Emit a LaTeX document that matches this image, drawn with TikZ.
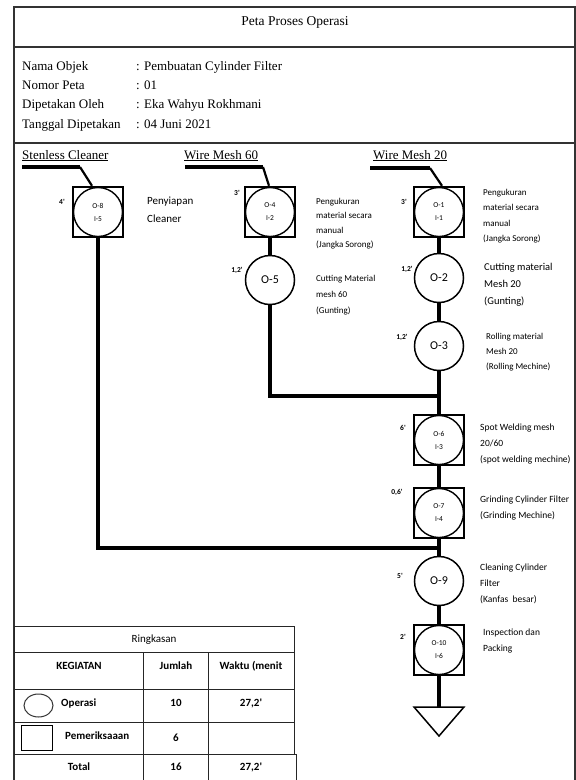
\documentclass[tikz,border=0pt]{standalone}
\usepackage{fontspec}
\setmainfont{Liberation Serif}
\newfontfamily\calib{Carlito}
\usetikzlibrary{positioning}

\begin{document}
\begin{tikzpicture}[x=1pt,y=-1pt,
    frame/.style={draw=black!80,line width=1.3pt},
    flow/.style={line width=4pt},
    lead/.style={line width=2.2pt},
    insbox/.style={draw,line width=2.4pt,minimum size=50pt,inner sep=0pt,align=center,
      font=\calib\fontsize{7.5}{13}\selectfont,
      path picture={\draw[line width=1.4pt] (path picture bounding box.center) circle (24.5pt);}},
    opcirc/.style={draw,circle,line width=1.5pt,minimum size=49pt,inner sep=0pt,
      font=\calib\fontsize{12}{14}\selectfont},
    hdr/.style={anchor=base west,inner sep=0pt,font=\fontsize{13}{15}\selectfont},
    tm/.style={inner sep=0pt,font=\calib\bfseries\fontsize{7.5}{9}\selectfont},
    lab/.style={anchor=north west,inner sep=0pt,align=left},
    tab/.style={draw=black!85,line width=1pt},
    tb/.style={inner sep=0pt,font=\calib\bfseries\fontsize{11}{12}\selectfont}]
  \useasboundingbox (0,0) rectangle (576,780);

  % Frame and header
  \draw[frame] (14,782) -- (14,7) -- (575,7) -- (575,782);
  \draw[frame] (14,47) -- (575,47);
  \draw[frame] (14,143) -- (575,143);
  \node[inner sep=0pt,font=\fontsize{13.5}{15}\selectfont,anchor=base] (title) at (295,25) {Peta Proses Operasi};
  \node[hdr] (k1) at (22,70) {Nama Objek};
  \node[hdr] (k2) at (22,89) {Nomor Peta};
  \node[hdr] (k3) at (22,108) {Dipetakan Oleh};
  \node[hdr] (k4) at (22,128) {Tanggal Dipetakan};
  \node[hdr] (v1) at (136,70) {: Pembuatan Cylinder Filter};
  \node[hdr] (v2) at (136,89) {: 01};
  \node[hdr] (v3) at (136,108) {: Eka Wahyu Rokhmani};
  \node[hdr] (v4) at (136,128) {: 04 Juni 2021};

  % Materials
  \node[hdr] (src8) at (22,159) {\underline{Stenless Cleaner}};
  \node[hdr] (src4) at (184,159) {\underline{Wire Mesh 60}};
  \node[hdr] (src1) at (373,159) {\underline{Wire Mesh 20}};

  % Operations and inspections
  \node[insbox] (o8) at (98,212) {O-8\\I-5};
  \node[insbox] (o4) at (270,212) {O-4\\I-2};
  \node[insbox] (o1) at (439,212) {O-1\\I-1};
  \node[opcirc] (o5) at (270,280) {O-5};
  \node[opcirc] (o2) at (439,278) {O-2};
  \node[opcirc] (o3) at (439,346) {O-3};
  \node[insbox] (o6) at (439,440) {O-6\\I-3};
  \node[insbox] (o7) at (439,513) {O-7\\I-4};
  \node[opcirc] (o9) at (439,581) {O-9};
  \node[insbox] (o10) at (439,650) {O-10\\I-6};
  \coordinate (tri) at (439,707);
  \draw[line width=1.5pt] (tri) -- (464,707) -- (439,736) -- (414,707) -- cycle;

  % Times
  \node[tm] (t8) at (62,202) {4'};
  \node[tm] (t4) at (237,193) {3'};
  \node[tm] (t1) at (404,202) {3'};
  \node[tm] (t5) at (237,270) {1,2'};
  \node[tm] (t2) at (407,269) {1,2'};
  \node[tm] (t3) at (402,337) {1,2'};
  \node[tm] (t6) at (403,428) {6'};
  \node[tm] (t7) at (397,492) {0,6'};
  \node[tm] (t9) at (400,576) {5'};
  \node[tm] (t10) at (403,637) {2'};

  % Descriptions
  \node[lab,font=\calib\fontsize{11}{18}\selectfont] (d8) at (147,197) {Penyiapan\\Cleaner};
  \node[lab,font=\calib\fontsize{9}{14.5}\selectfont] (d4) at (316,198) {Pengukuran\\material secara\\manual\\(Jangka Sorong)};
  \node[lab,font=\calib\fontsize{9}{15.5}\selectfont] (d1) at (483,189) {Pengukuran\\material secara\\manual\\(Jangka Sorong)};
  \node[lab,font=\calib\fontsize{9}{16}\selectfont] (d5) at (316,275) {Cutting Material\\mesh 60\\(Gunting)};
  \node[lab,font=\calib\fontsize{10.5}{17}\selectfont] (d2) at (484,263) {Cutting material\\Mesh 20\\(Gunting)};
  \node[lab,font=\calib\fontsize{9}{15}\selectfont] (d3) at (486,333) {Rolling material\\Mesh 20\\(Rolling Mechine)};
  \node[lab,font=\calib\fontsize{9.5}{16}\selectfont] (d6) at (480,424) {Spot Welding mesh\\20/60\\(spot welding mechine)};
  \node[lab,font=\calib\fontsize{9.5}{16}\selectfont] (d7) at (480,496) {Grinding Cylinder Filter\\(Grinding Mechine)};
  \node[lab,font=\calib\fontsize{9.5}{16}\selectfont] (d9) at (480,564) {Cleaning Cylinder\\Filter\\(Kanfas\ \ besar)};
  \node[lab,font=\calib\fontsize{9.5}{16}\selectfont] (d10) at (483,629) {Inspection dan\\Packing};

  % Leader lines
  \coordinate (s8) at (22,167);
  \coordinate (b8) at (80,167);
  \coordinate (s4) at (185,167);
  \coordinate (b4) at (263,167);
  \coordinate (s1) at (370,168);
  \coordinate (b1) at (430,168);
  \draw[flow] (s8) -- (b8);
  \draw[lead] (b8) -- ([xshift=-6pt]o8.north);
  \draw[flow] (s4) -- (b4);
  \draw[lead] (b4) -- ([xshift=-1pt]o4.north);
  \draw[flow] (s1) -- (b1);
  \draw[lead] (b1) -- ([xshift=3pt]o1.north);

  % Flow
  \coordinate (j1) at (439,396);
  \coordinate (j2) at (439,548);
  \draw[flow] (o4) -- (o5);
  \draw[flow] (o5) |- (j1);
  \draw[flow] (o8) |- (j2);
  \draw[flow] (o1) -- (o2);
  \draw[flow] (o2) -- (o3);
  \draw[flow] (o3) -- (o6);
  \draw[flow] (o6) -- (o7);
  \draw[flow] (o7) -- (o9);
  \draw[flow] (o9) -- (o10);
  \draw[flow] (o10) -- (tri);

  % Summary table
  \draw[tab] (14,626) rectangle (294,754);
  \draw[tab] (14,652) -- (294,652);
  \draw[tab] (14,689) -- (294,689);
  \draw[tab] (14,722) -- (294,722);
  \draw[tab] (143,652) -- (143,781);
  \draw[tab] (208,652) -- (208,781);
  \draw[tab] (294,754) -- (296,754) -- (296,781);
  \node[inner sep=0pt,font=\calib\fontsize{11}{12}\selectfont] (tRing) at (154,640) {Ringkasan};
  \node[tb] (tKeg) at (79,666) {KEGIATAN};
  \node[tb] (tJum) at (176,666) {Jumlah};
  \node[tb] (tWak) at (251,666) {Waktu (menit};
  \draw[line width=1pt,black!80] (38.5,705.5) ellipse (14.5 and 11.5);
  \node[tb,anchor=west] (tOp) at (61,703) {Operasi};
  \node[tb] (tOpN) at (176,703) {10};
  \node[tb] (tOpW) at (251,703) {27,2'};
  \draw[line width=1pt] (21,725) rectangle (52,750);
  \node[tb,anchor=west] (tPm) at (65,736) {Pemeriksaaan};
  \node[tb] (tPmN) at (176,738) {6};
  \node[tb] (tTot) at (79,767) {Total};
  \node[tb] (tTotN) at (176,767) {16};
  \node[tb] (tTotW) at (251,767) {27,2'};
\end{tikzpicture}
\end{document}
